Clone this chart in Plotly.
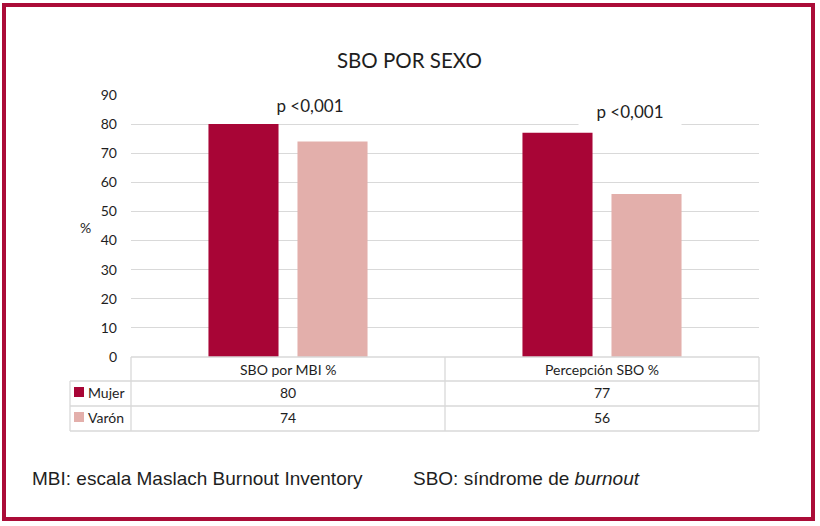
import plotly.graph_objects as go

categories = ["SBO por MBI %", "Percepción SBO %"]
series_names = ["Mujer", "Varón"]
mujer = [80, 77]
varon = [74, 56]
p_labels = ["p <0,001", "p <0,001"]
p_label_y = [86.5, 84.5]
title_text = "SBO POR SEXO"
footnote_left = "MBI: escala Maslach Burnout Inventory"
footnote_right = "SBO: síndrome de <i>burnout</i>"
y_ticks = [0, 10, 20, 30, 40, 50, 60, 70, 80, 90]

colors = ["#A80536", "#E3AFAB"]
border_color = "#AB0C38"
grid_color = "#D9D9D9"
text_color = "#1E1E1E"
font_main = "Lato"

W, H = 820, 526
L, R, T, B = 131, 759, 95, 357  # plot area in pixels


def px(x):
    return (x - L) / (R - L)


def py(y):
    return (B - y) / (B - T)


series = [mujer, varon]
fig = go.Figure()
for name, vals, col in zip(series_names, series, colors):
    fig.add_trace(go.Bar(x=categories, y=vals, name=name, marker_color=col,
                         marker_line_width=0, showlegend=False, hoverinfo="skip"))

shapes = []


def line(x0, y0, x1, y1):
    shapes.append(dict(type="line", xref="paper", yref="paper",
                       x0=px(x0), y0=py(y0), x1=px(x1), y1=py(y1),
                       line=dict(color=grid_color, width=1.3), layer="above"))


# data table grid
line(L, 357, R, 357)
for yy in (381, 406, 431):
    line(70, yy, R, yy)
line(70, 381, 70, 431)
for xx in (L, 445, R):
    line(xx, 357, xx, 431)

# legend keys in table
row_y = [392, 417]
for col, ry in zip(colors, row_y):
    shapes.append(dict(type="rect", xref="paper", yref="paper",
                       x0=px(74), x1=px(84), y0=py(ry - 5), y1=py(ry + 5),
                       fillcolor=col, line=dict(width=0)))

# outer border
shapes.append(dict(type="rect", xref="paper", yref="paper",
                   x0=px(4), x1=px(813), y0=py(5), y1=py(519),
                   line=dict(color=border_color, width=4), fillcolor="rgba(0,0,0,0)",
                   layer="above"))

annotations = []
tfont = dict(size=14, color=text_color, family=font_main)
# header
for c in categories:
    annotations.append(dict(x=c, xref="x", y=py(369), yref="paper", text=c,
                            showarrow=False, font=tfont,
                            xanchor="center", yanchor="middle"))
# values and row labels
for name, vals, ry in zip(series_names, series, row_y):
    annotations.append(dict(x=px(86), xref="paper", y=py(ry), yref="paper", text=name,
                            showarrow=False, font=tfont,
                            xanchor="left", yanchor="middle"))
    for c, v in zip(categories, vals):
        annotations.append(dict(x=c, xref="x", y=py(ry), yref="paper", text=str(v),
                                showarrow=False, font=tfont,
                                xanchor="center", yanchor="middle"))
# p labels
offsets = [0.07, 0.09]
for i, (c, lab, yy) in enumerate(zip(categories, p_labels, p_label_y)):
    annotations.append(dict(x=i + offsets[i], xref="x", y=yy, yref="y", text=lab,
                            showarrow=False, font=dict(size=17, color=text_color, family=font_main),
                            bgcolor="white", width=100, height=26,
                            xanchor="center", yanchor="middle"))
# % label
annotations.append(dict(x=px(85), xref="paper", y=py(227), yref="paper", text="%",
                        showarrow=False, font=dict(size=14, color=text_color, family=font_main),
                        xanchor="center", yanchor="middle"))
# title
annotations.append(dict(x=px(409), xref="paper", y=py(60), yref="paper", text=title_text,
                        showarrow=False, font=dict(size=20.5, color=text_color, family=font_main),
                        xanchor="center", yanchor="middle"))
# footnotes
annotations.append(dict(x=px(30), xref="paper", y=py(478), yref="paper", text=footnote_left,
                        showarrow=False, font=dict(size=19, color=text_color, family="Liberation Sans"),
                        xanchor="left", yanchor="middle"))
annotations.append(dict(x=px(411), xref="paper", y=py(478), yref="paper", text=footnote_right,
                        showarrow=False, font=dict(size=19, color=text_color, family="Liberation Sans"),
                        xanchor="left", yanchor="middle"))

fig.update_layout(
    width=W, height=H,
    margin=dict(l=L, r=W - R, t=T, b=H - B, pad=0),
    paper_bgcolor="white", plot_bgcolor="white",
    barmode="group", bargap=0.433, bargroupgap=0.213,
    shapes=shapes, annotations=annotations,
    font=dict(family=font_main, color=text_color),
    xaxis=dict(range=[-0.5, 1.5], showticklabels=False, showgrid=False,
               zeroline=False, showline=False, fixedrange=True),
    yaxis=dict(range=[0, 90], tickvals=y_ticks, showgrid=True, gridcolor=grid_color,
               gridwidth=1.3, zeroline=False, showline=False,
               tickfont=dict(size=14, color=text_color, family=font_main),
               ticklabelstandoff=13, fixedrange=True),
)

fig.write_html("out.html")
